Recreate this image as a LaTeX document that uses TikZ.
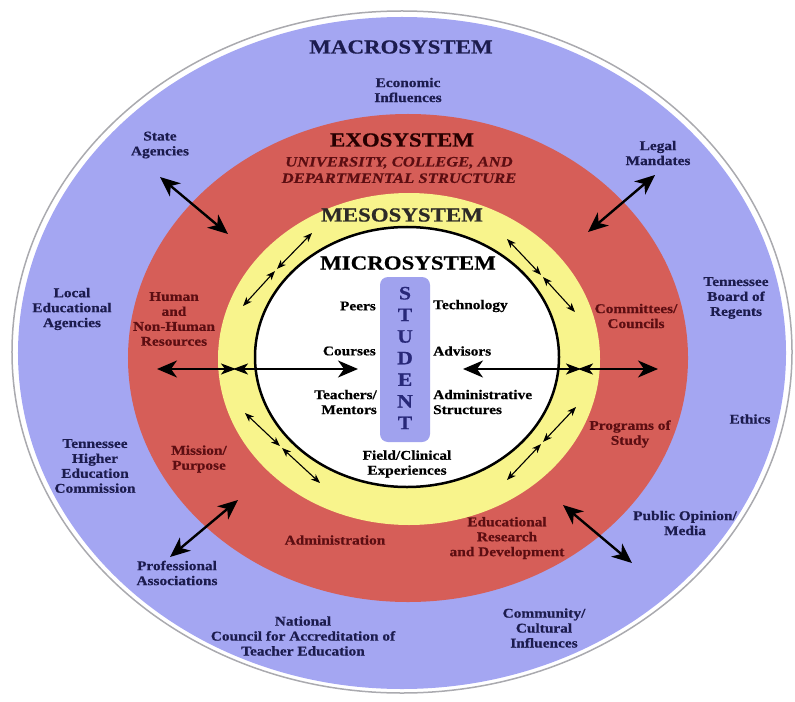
\documentclass[tikz,border=0pt]{standalone}
\usepackage{fontspec}
\setmainfont{Liberation Serif}[FakeStretch=1.15, BoldFeatures={FakeBold=0.6}, BoldItalicFeatures={FakeBold=0.4}]
\usetikzlibrary{arrows.meta,calc}
\definecolor{macroblue}{RGB}{164,166,242}
\definecolor{exored}{RGB}{214,94,88}
\definecolor{mesoyellow}{RGB}{248,244,140}
\definecolor{studentblue}{RGB}{160,162,238}
\definecolor{navytext}{RGB}{28,28,78}
\definecolor{maroontext}{RGB}{92,14,18}
\definecolor{studenttext}{RGB}{40,40,120}
\definecolor{ringgray}{RGB}{170,170,175}
\tikzset{
  bigtip/.tip={Stealth[length=20bp,width=17bp,inset=6bp]},
  midtip/.tip={Stealth[length=15bp,width=11bp,inset=4bp]},
  smalltip/.tip={Stealth[length=9bp,width=7bp,inset=2.5bp]},
  lbl/.style={font=\bfseries\fontsize{13.4}{15}\selectfont, align=center, inner sep=0pt},
  macrolbl/.style={lbl, text=navytext},
  exolbl/.style={lbl, text=maroontext},
  microlbl/.style={lbl, text=black},
  heading/.style={font=\bfseries\fontsize{20}{22}\selectfont, inner sep=0pt},
  bigarrow/.style={line width=2.4bp, draw=black, bigtip-bigtip},
  hline/.style={line width=1.8bp, draw=black},
  smallarrow/.style={line width=1.1bp, draw=black, smalltip-smalltip},
}
\begin{document}
\begin{tikzpicture}[x=1bp,y=-1bp]
\useasboundingbox (0,0) rectangle (795,702);
% rings
\draw[ringgray, line width=1.5bp] (402,352) ellipse [x radius=390bp, y radius=341bp];
\fill[macroblue] (402,353) ellipse [x radius=384bp, y radius=336bp];
\fill[exored] (408,358) ellipse [x radius=280bp, y radius=244bp];
\fill[mesoyellow] (409,359) ellipse [x radius=191bp, y radius=166bp];
\filldraw[fill=white, draw=black, line width=2.5bp] (407,357) ellipse [x radius=152bp, y radius=130bp];
\fill[studentblue, rounded corners=8bp] (380,277) rectangle (430,442);

% headings
\node[heading, text=navytext] (macro) at (401,47) {MACROSYSTEM};
\node[heading, text=black!85!red] (exo) at (402,140) {EXOSYSTEM};
\node[font=\bfseries\itshape\fontsize{14.5}{16.5}\selectfont, text=maroontext, align=center, inner sep=0pt] (exosub) at (399,170) {UNIVERSITY, COLLEGE, AND\\DEPARTMENTAL STRUCTURE};
\node[heading, text=black!90!olive] (meso) at (402,215) {MESOSYSTEM};
\node[heading, text=black] (micro) at (408,263) {MICROSYSTEM};
\node[font=\bfseries\fontsize{19}{21.7}\selectfont, text=studenttext, align=center, inner sep=0pt] (student) at (405,358) {S\\T\\U\\D\\E\\N\\T};

% macro labels
\node[macrolbl] (econ) at (408,90) {Economic\\Influences};
\node[macrolbl] (state) at (160,145) {State\\Agencies};
\node[macrolbl] (legal) at (658,153) {Legal\\Mandates};
\node[macrolbl] (local) at (72,309) {Local\\Educational\\Agencies};
\node[macrolbl] (tbr) at (736,298) {Tennessee\\Board of\\Regents};
\node[macrolbl] (ethics) at (750,419) {Ethics};
\node[macrolbl] (thec) at (95,466) {Tennessee\\Higher\\Education\\Commission};
\node[macrolbl] (public) at (685,523) {Public Opinion/\\Media};
\node[macrolbl] (prof) at (177,573) {Professional\\Associations};
\node[macrolbl] (ncate) at (303,636) {National\\Council for Accreditation of\\Teacher Education};
\node[macrolbl] (comm) at (544,628) {Community/\\Cultural\\Influences};

% exo labels
\node[exolbl] (human) at (174,319) {Human\\and\\Non-Human\\Resources};
\node[exolbl] (committees) at (636,316) {Committees/\\Councils};
\node[exolbl] (programs) at (630,434) {Programs of\\Study};
\node[exolbl] (mission) at (199,459) {Mission/\\Purpose};
\node[exolbl] (admin) at (335,540) {Administration};
\node[exolbl] (edres) at (507,538) {Educational\\Research\\and Development};

% micro labels
\node[microlbl, anchor=east, align=right] (peers) at (376,306) {Peers};
\node[microlbl, anchor=west, align=left] (tech) at (433,306) {Technology};
\node[microlbl, anchor=east, align=right] (courses) at (376,351) {Courses};
\node[microlbl, anchor=west, align=left] (advisors) at (433,351) {Advisors};
\node[microlbl, anchor=east, align=right] (teachers) at (377,402) {Teachers/\\Mentors};
\node[microlbl, anchor=west, align=left] (adminstruct) at (433,402) {Administrative\\Structures};
\node[microlbl] (field) at (407,464) {Field/Clinical\\Experiences};

% big diagonal arrows
\coordinate (sa1) at (160,177); \coordinate (sa2) at (228,234);
\coordinate (lm1) at (655,175); \coordinate (lm2) at (588,232);
\coordinate (pa1) at (238,500); \coordinate (pa2) at (170,557);
\coordinate (po1) at (563,505); \coordinate (po2) at (632,563);
\draw[bigarrow] (sa1) -- (sa2);
\draw[bigarrow] (lm1) -- (lm2);
\draw[bigarrow] (pa1) -- (pa2);
\draw[bigarrow] (po1) -- (po2);

% horizontal arrows
\coordinate (hl1) at (157,369); \coordinate (hl2) at (236,369);
\coordinate (hl3) at (233,369); \coordinate (hl4) at (358,369);
\coordinate (hr1) at (463,369); \coordinate (hr2) at (581,369);
\coordinate (hr3) at (578,369); \coordinate (hr4) at (658,369);
\draw[hline, bigtip-midtip] (hl1) -- (hl2);
\draw[hline, midtip-bigtip] (hl3) -- (hl4);
\draw[hline, bigtip-midtip] (hr1) -- (hr2);
\draw[hline, midtip-bigtip] (hr3) -- (hr4);

% small arrows in mesosystem
\coordinate (ul1) at (243,306); \coordinate (ulm) at (276,270); \coordinate (ul2) at (312,233);
\coordinate (ur1) at (507,239); \coordinate (urm) at (542,276); \coordinate (ur2) at (575,312);
\coordinate (ll1) at (245,413); \coordinate (llm) at (281,447); \coordinate (ll2) at (320,483);
\coordinate (lr1) at (576,407); \coordinate (lrm) at (542,443); \coordinate (lr2) at (507,480);
\draw[smallarrow] (ul1) -- ($(ulm)!-1.5bp!(ul2)$);
\draw[smallarrow] (ul2) -- ($(ulm)!-1.5bp!(ul1)$);
\draw[smallarrow] (ur1) -- ($(urm)!-1.5bp!(ur2)$);
\draw[smallarrow] (ur2) -- ($(urm)!-1.5bp!(ur1)$);
\draw[smallarrow] (ll1) -- ($(llm)!-1.5bp!(ll2)$);
\draw[smallarrow] (ll2) -- ($(llm)!-1.5bp!(ll1)$);
\draw[smallarrow] (lr1) -- ($(lrm)!-1.5bp!(lr2)$);
\draw[smallarrow] (lr2) -- ($(lrm)!-1.5bp!(lr1)$);
\end{tikzpicture}
\end{document}
